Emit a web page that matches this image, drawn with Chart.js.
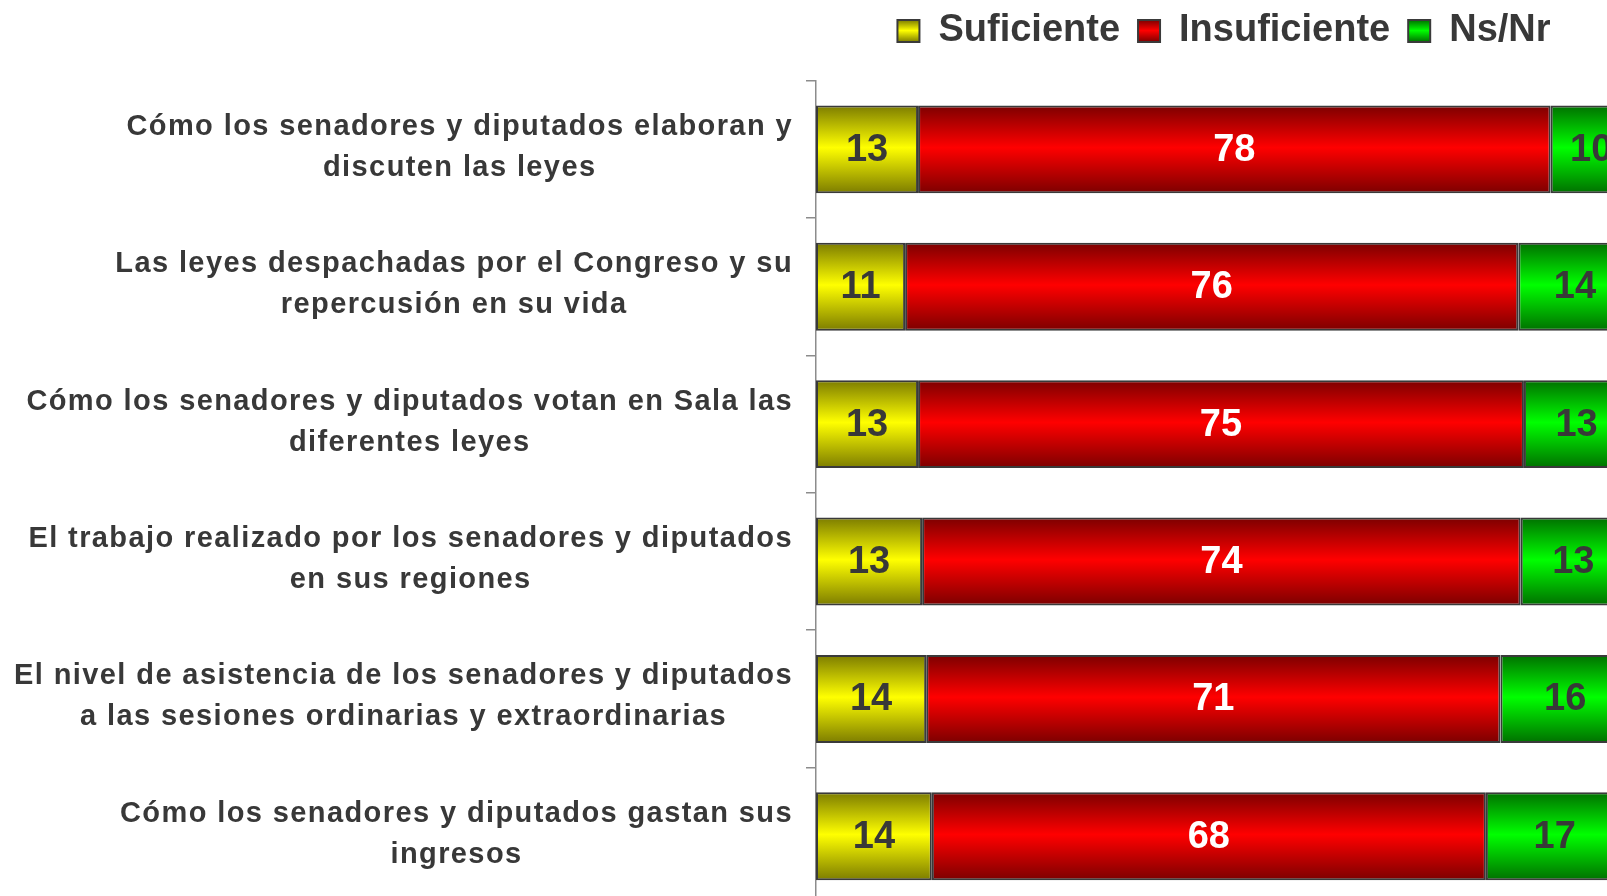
<!DOCTYPE html>
<html><head><meta charset="utf-8">
<script src="https://cdn.jsdelivr.net/npm/chart.js@4.4.1/dist/chart.umd.min.js"></script>
<style>
html,body{margin:0;padding:0;background:#fff;overflow:hidden;width:1607px;height:896px;}
#wrap{position:absolute;left:0;top:0;width:1640px;height:905px;}
canvas{display:block;}
</style></head><body>
<div id="wrap"><canvas id="c" width="1640" height="905" style="width:1640px;height:905px"></canvas></div>
<script>
// ---- data ----
const categories = [
  ["Cómo los senadores y diputados elaboran y", "discuten las leyes"],
  ["Las leyes despachadas por el Congreso y su", "repercusión en su vida"],
  ["Cómo los senadores y diputados votan en Sala las", "diferentes leyes"],
  ["El trabajo realizado por los senadores y diputados", "en sus regiones"],
  ["El nivel de asistencia de los senadores y diputados", "a las sesiones ordinarias y extraordinarias"],
  ["Cómo los senadores y diputados gastan sus", "ingresos"]
];
const seriesNames = ["Suficiente", "Insuficiente", "Ns/Nr"];
const suficiente   = [12.6, 11.0, 12.6, 13.1, 13.6, 14.3];
const insuficiente = [78.1, 75.7, 74.8, 73.9, 70.9, 68.4];
const nsnr         = [10, 14, 13, 13, 16, 17];

// ---- styling ----
const BAR_PCT = 0.64;
const PAD_TOP = -6;
const LEG_FONT = 38, LEG_PAD = 18, LEG_BOX = 22;
const LEG_BOX_TOP = PAD_TOP + LEG_PAD + (LEG_FONT - LEG_BOX) / 2;
const AXIS_LEFT = 816;
const CHART_TOP = 80.7;
const X_AXIS_H = CHART_TOP - (PAD_TOP + LEG_FONT + LEG_PAD + 10);
const TEXT = '#383838';
const FONT = '"Liberation Sans", Arial, sans-serif';
const COLORS = [['#7c7c00', '#ffff00'], ['#7c0000', '#ff0000'], ['#007000', '#00ff00']];

function makeGrad(c, top, bottom, pair) {
  const g = c.createLinearGradient(0, top, 0, bottom);
  g.addColorStop(0, pair[0]);
  g.addColorStop(0.48, pair[1]);
  g.addColorStop(1, pair[0]);
  return g;
}

function grad(pair) {
  return function (ctx) {
    const chart = ctx.chart;
    const ys = chart.scales && chart.scales.y;
    if (!ys || !(ys.bottom > ys.top)) return pair[1];
    const band = (ys.bottom - ys.top) / categories.length;
    const cy = ys.getPixelForValue(ctx.dataIndex || 0);
    return makeGrad(chart.ctx, cy - band * BAR_PCT / 2, cy + band * BAR_PCT / 2, pair);
  };
}

const legendShift = {
  id: 'legendShift',
  afterLayout(chart) {
    if (chart.legend) { chart.legend.left += 3; chart.legend.right += 3; }
  }
};

const valueLabels = {
  id: 'valueLabels',
  afterDatasetsDraw(chart) {
    const ctx = chart.ctx;
    ctx.save();
    ctx.font = 'bold 38px ' + FONT;
    ctx.textAlign = 'center';
    ctx.textBaseline = 'middle';
    chart.data.datasets.forEach((ds, i) => {
      const meta = chart.getDatasetMeta(i);
      ctx.fillStyle = i === 1 ? '#ffffff' : TEXT;
      meta.data.forEach((bar, j) => {
        const p = bar.getProps(['x', 'base', 'y'], true);
        ctx.fillText(String(Math.round(ds.data[j])), (p.x + p.base) / 2, p.y + 1);
      });
    });
    ctx.restore();
  }
};

const categoryLabels = {
  id: 'categoryLabels',
  afterDraw(chart) {
    const ctx = chart.ctx;
    const ys = chart.scales.y;
    ctx.save();
    ctx.font = 'bold 29px ' + FONT;
    ctx.letterSpacing = '1.4px';
    ctx.fillStyle = TEXT;
    ctx.textAlign = 'center';
    ctx.textBaseline = 'middle';
    const right = AXIS_LEFT - 24;
    const lh = 41;
    categories.forEach((lines, i) => {
      const cy = ys.getPixelForValue(i) - 2;
      const w = Math.max(...lines.map(l => ctx.measureText(l).width));
      const cx = right - w / 2 + 1;
      const y0 = cy - (lines.length - 1) * lh / 2;
      lines.forEach((l, k) => ctx.fillText(l, cx, y0 + k * lh));
    });
    ctx.restore();
  }
};

new Chart(document.getElementById('c'), {
  type: 'bar',
  data: {
    labels: categories,
    datasets: [
      { label: seriesNames[0], data: suficiente, backgroundColor: grad(COLORS[0]) },
      { label: seriesNames[1], data: insuficiente, backgroundColor: grad(COLORS[1]) },
      { label: seriesNames[2], data: nsnr, backgroundColor: grad(COLORS[2]) }
    ].map(d => Object.assign(d, {
      borderColor: '#3a3a3a', borderWidth: 2, borderSkipped: false,
      barPercentage: BAR_PCT, categoryPercentage: 1
    }))
  },
  options: {
    indexAxis: 'y',
    responsive: false,
    animation: false,
    devicePixelRatio: 1,
    layout: { padding: { top: PAD_TOP, right: 14, left: 0, bottom: 0 } },
    scales: {
      x: {
        position: 'top', stacked: true, min: 0, max: 100,
        ticks: { display: false }, grid: { display: false }, border: { display: false },
        afterFit(s) { s.height = X_AXIS_H; }
      },
      y: {
        stacked: true, offset: true,
        ticks: { display: false },
        grid: { offset: true, drawOnChartArea: false, drawTicks: true, tickLength: 10, color: '#8c8c8c', lineWidth: 1.5 },
        border: { display: true, color: '#8c8c8c', width: 1.5 },
        afterFit(s) { s.width = AXIS_LEFT; }
      }
    },
    plugins: {
      legend: {
        position: 'top', align: 'center', fullSize: false,
        labels: {
          font: { family: FONT, size: LEG_FONT, weight: 'bold' },
          color: TEXT, boxWidth: LEG_BOX, boxHeight: LEG_BOX, padding: LEG_PAD,
          generateLabels(chart) {
            const items = Chart.defaults.plugins.legend.labels.generateLabels(chart);
            items.forEach((it, i) => {
              it.fillStyle = makeGrad(chart.ctx, LEG_BOX_TOP, LEG_BOX_TOP + LEG_BOX, COLORS[i]);
            });
            return items;
          }
        }
      },
      tooltip: { enabled: false }
    }
  },
  plugins: [legendShift, valueLabels, categoryLabels]
});
</script>
</body></html>
